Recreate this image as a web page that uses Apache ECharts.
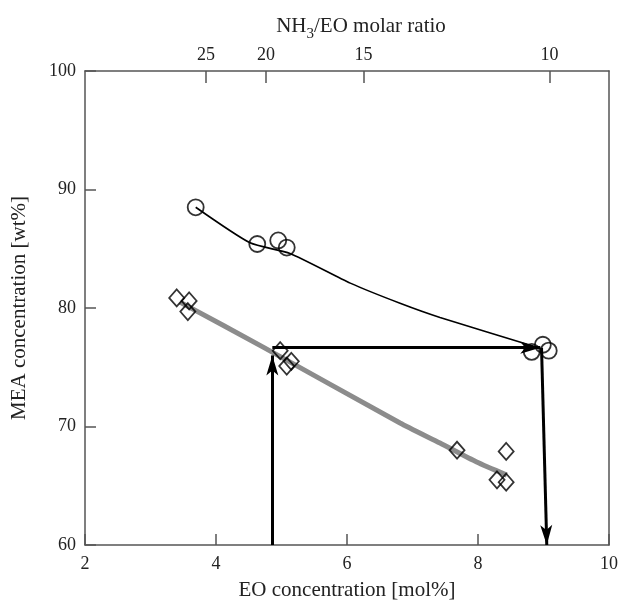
<!DOCTYPE html>
<html>
<head>
<meta charset="utf-8">
<script src="https://cdn.jsdelivr.net/npm/echarts@6/dist/echarts.min.js"></script>
<style>html,body{margin:0;padding:0;background:#fff;}#c{width:619px;height:602px;}</style>
</head>
<body>
<div id="c"></div>
<script>
// EO concentration [mol%] vs MEA concentration [wt%]
const circleData = [[3.69,88.5],[4.63,85.4],[4.95,85.7],[5.08,85.1],[8.82,76.3],[8.99,76.9],[9.08,76.4]];
const diamondData = [[3.40,80.85],[3.59,80.6],[3.57,79.7],[4.98,76.4],[5.15,75.5],[5.08,75.1],[7.68,68.0],[8.43,67.9],[8.29,65.5],[8.43,65.3]];
const blackFit = [[3.69,88.5],[4.52,85.5],[5.13,84.6],[6.05,82.1],[6.81,80.4],[7.42,79.2],[8.95,76.6]];
const grayFit = [[3.45,80.5],[4.72,76.7],[6.81,70.3],[7.42,68.6],[7.98,67.0],[8.44,65.9]];
const arrowUp = [[4.86,60],[4.86,76.0]];
const arrowRight = [[4.86,76.65],[8.95,76.65]];
const arrowDown = [[8.97,76.65],[9.05,60]];
const ratioTicks = [25,20,15,10];
const xTicks = [2,4,6,8,10];
const yTicks = [60,70,80,90,100];

const font = '"Liberation Serif","DejaVu Serif",serif';
const axisColor = '#555';
const txtColor = '#222';

const chart = echarts.init(document.getElementById('c'));
const toSeg = a => [{coord:a[0]},{coord:a[1]}];
chart.setOption({
  animation:false,
  grid:{left:85,right:10,top:71,bottom:57,containLabel:false,outerBoundsMode:'none'},
  xAxis:[{
    type:'value',min:xTicks[0],max:xTicks[xTicks.length-1],interval:2,position:'bottom',
    name:'EO concentration [mol%]',nameLocation:'middle',nameGap:35,
    nameTextStyle:{fontFamily:font,fontSize:21,color:txtColor},
    axisLine:{show:true,lineStyle:{color:axisColor,width:1.5}},
    axisTick:{show:true,inside:true,length:11,lineStyle:{color:axisColor,width:1.5}},
    axisLabel:{fontFamily:font,fontSize:18,color:txtColor,margin:10},
    splitLine:{show:false}
  },{
    type:'value',min:2,max:10,position:'top',
    name:'{a|NH}{s|3}{a|/EO molar ratio}',nameLocation:'middle',nameGap:28,
    nameTextStyle:{padding:[0,0,0,28],rich:{
      a:{fontFamily:font,fontSize:21,color:txtColor},
      s:{fontFamily:font,fontSize:15,color:txtColor,verticalAlign:'bottom',padding:[0,0,-4,0]}}},
    axisLine:{show:true,lineStyle:{color:axisColor,width:1.5}},
    axisTick:{show:true,inside:true,length:12,customValues:ratioTicks.map(r=>100/(r+1)),lineStyle:{color:axisColor,width:1.5}},
    axisLabel:{fontFamily:font,fontSize:18,color:txtColor,margin:7,customValues:ratioTicks.map(r=>100/(r+1)),
      formatter:v=>String(Math.round(100/v-1))},
    splitLine:{show:false}
  }],
  yAxis:[{
    type:'value',min:yTicks[0],max:yTicks[yTicks.length-1],interval:10,position:'left',
    name:'MEA concentration [wt%]',nameLocation:'middle',nameGap:55,
    nameTextStyle:{fontFamily:font,fontSize:21,color:txtColor},
    axisLine:{show:true,lineStyle:{color:axisColor,width:1.5}},
    axisTick:{show:true,inside:true,length:11,lineStyle:{color:axisColor,width:1.5}},
    axisLabel:{fontFamily:font,fontSize:18,color:txtColor,margin:9},
    splitLine:{show:false}
  },{
    type:'value',min:60,max:100,position:'right',
    axisLine:{show:true,lineStyle:{color:axisColor,width:1.5}},
    axisTick:{show:false},axisLabel:{show:false},splitLine:{show:false}
  }],
  series:[
    {type:'line',data:grayFit,smooth:0.2,showSymbol:false,lineStyle:{color:'#8c8c8c',width:5},z:2},
    {type:'line',data:blackFit,smooth:0.2,showSymbol:false,lineStyle:{color:'#000',width:1.6},z:3},
    {type:'scatter',data:circleData,symbol:'circle',symbolSize:16,
      itemStyle:{color:'rgba(255,255,255,0)',borderColor:'#000',borderWidth:1.8},z:4},
    {type:'scatter',data:diamondData,symbol:'diamond',symbolSize:[15,17],
      itemStyle:{color:'rgba(255,255,255,0)',borderColor:'#000',borderWidth:1.8},z:4},
    {type:'line',data:[],silent:true,z:5,
      markLine:{silent:true,symbol:['none','arrow'],symbolSize:[9,20],
        label:{show:false},lineStyle:{color:'#000',width:3,type:'solid'},
        emphasis:{disabled:true},
        data:[toSeg(arrowUp),toSeg(arrowRight),toSeg(arrowDown)]}}
  ]
});
</script>
</body>
</html>
